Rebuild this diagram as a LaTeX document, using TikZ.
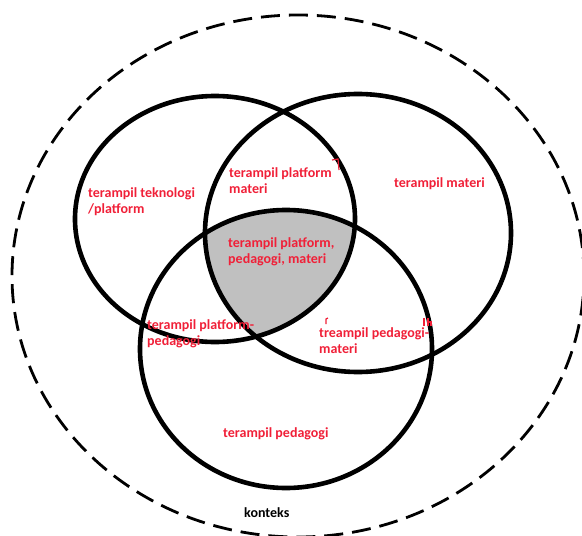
\documentclass[tikz,border=0pt]{standalone}
\usepackage{fontspec}
\setmainfont{Carlito}
\usetikzlibrary{shapes.geometric}
\definecolor{lblred}{RGB}{240,32,56}
\definecolor{midgray}{RGB}{192,192,192}
\begin{document}
\begin{tikzpicture}[x=1pt,y=-1pt,
  ring/.style={ellipse, draw=black, line width=4.6pt, inner sep=0pt, outer sep=0pt},
  outerring/.style={ellipse, draw=black, line width=2.8pt, dash pattern=on 19pt off 9pt, inner sep=0pt},
  lbl/.style={text=lblred, font=\bfseries\fontsize{14}{16}\selectfont, align=left, anchor=base west, inner sep=0pt},
  ctx/.style={text=black, font=\bfseries\fontsize{14}{16}\selectfont, anchor=base west, inner sep=0pt},
  redscrib/.style={draw=lblred, line width=1.2pt}]
\useasboundingbox (0,0) rectangle (582,536);
% shaded intersection
\begin{scope}
  \clip (215,219) ellipse [x radius=140, y radius=123];
  \clip (358,233) ellipse [x radius=153, y radius=139];
  \fill[midgray] (286,349) ellipse [x radius=146, y radius=139];
\end{scope}
% context
\node[outerring, minimum width=572, minimum height=522] (ctxring) at (298,276) {};
% three sets
\node[ring, minimum width=280, minimum height=246] (tek) at (215,219) {};
\node[ring, minimum width=306, minimum height=278] (mat) at (358,233) {};
\node[ring, minimum width=292, minimum height=278] (ped) at (286,349) {};
% labels (base anchor = baseline of last line)
\node[lbl] (lt) at (88,213) {terampil teknologi\\/platform};
\node[lbl] (ltm) at (229,193) {terampil platform\\materi};
\node[lbl] (lm) at (394,187) {terampil materi};
\node[lbl] (lall) at (228,263) {terampil platform,\\pedagogi, materi};
\node[lbl] (ltp) at (147,345) {terampil platform-\\pedagogi};
\node[lbl] (lpm) at (319,353) {treampil pedagogi-\\materi};
\node[lbl] (lp) at (223,437) {terampil pedagogi};
\node[ctx] (lk) at (244,517) {konteks};
% stray red marks
\draw[redscrib] (332,160) -- (338,159) -- (339,170);
\draw[redscrib] (424,318) -- (424,326) (428,318) -- (428,326) (428,322) -- (431,322) -- (431,326);
\draw[redscrib] (326,324) -- (326,319) -- (328,318);
\end{tikzpicture}
\end{document}
